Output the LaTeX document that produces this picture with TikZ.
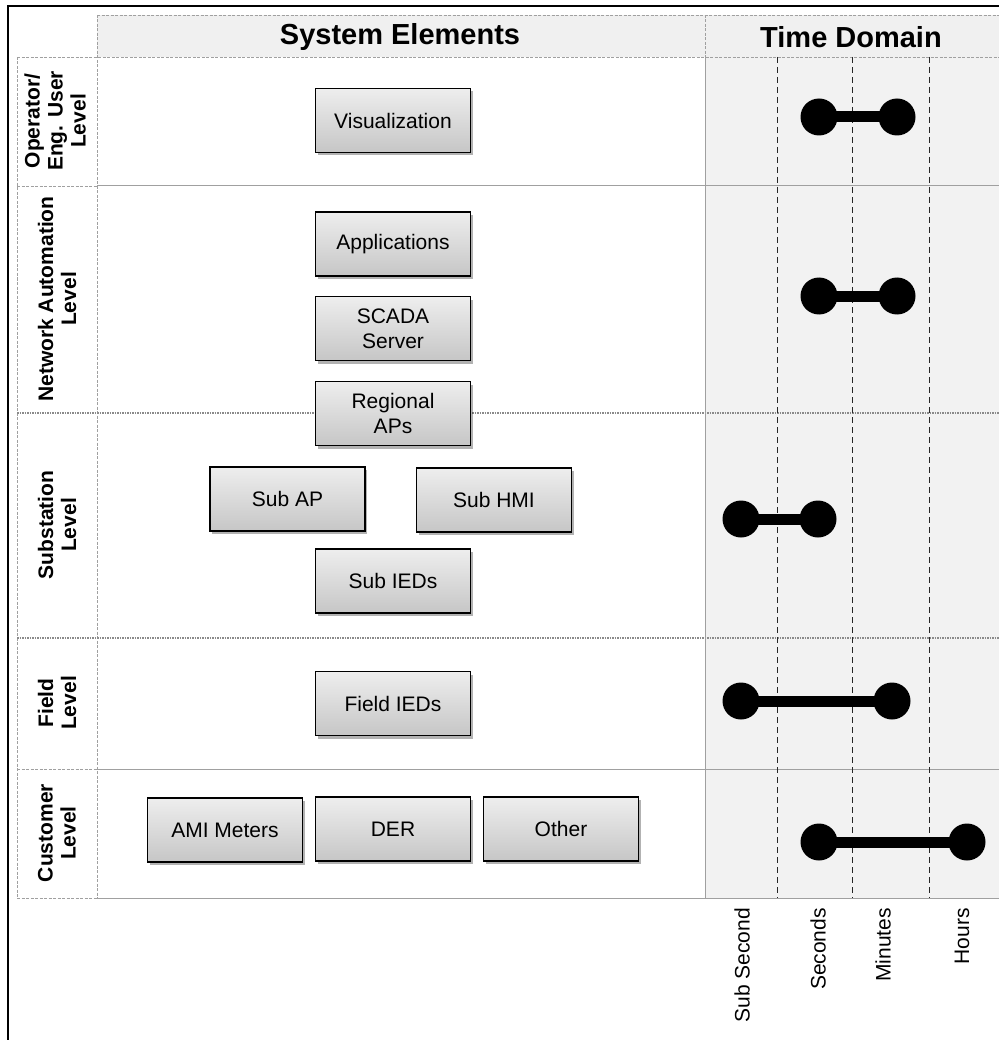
\documentclass[tikz,border=0pt]{standalone}
\usepackage{fontspec}
\setmainfont{Liberation Sans}
\usetikzlibrary{shadows}
\definecolor{gridgray}{HTML}{A0A0A0}
\definecolor{seamgray}{HTML}{8A8A8A}
\definecolor{panelgray}{HTML}{F2F2F2}
\definecolor{headgray}{HTML}{F0F0F0}
\definecolor{boxtop}{HTML}{EEEEEE}
\definecolor{boxbot}{HTML}{C6C6C6}
\tikzset{
  elem/.style={draw=black, line width=1.2pt, top color=boxtop, bottom color=boxbot,
    minimum width=155pt, minimum height=64pt, inner sep=0pt, align=center,
    font=\fontsize{21}{25}\selectfont,
    drop shadow={shadow xshift=2pt, shadow yshift=-3pt, opacity=0.3, fill=black}},
  lvl/.style={rotate=90, align=center, inner sep=0pt, font=\bfseries\fontsize{21}{23}\selectfont},
  head/.style={inner sep=0pt, font=\bfseries\fontsize{29}{34}\selectfont},
  tick/.style={rotate=90, anchor=east, inner sep=0pt, font=\fontsize{21}{25}\selectfont},
  dot/.style={circle, fill=black, minimum size=37pt, inner sep=0pt},
  bar/.style={line width=11pt},
  cellline/.style={gridgray, line width=0.8pt, dash pattern=on 3pt off 1.5pt},
  seam/.style={seamgray, line width=1.2pt, dash pattern=on 1.5pt off 1pt},
  solidline/.style={gridgray, line width=1pt},
  scaleline/.style={black!85, line width=0.9pt, dash pattern=on 6pt off 4pt},
}
\begin{document}
\begin{tikzpicture}[x=1pt, y=-1pt]
\useasboundingbox (0,0) rectangle (998,1040);
% page frame
\draw[line width=2.6pt] (8,1060) -- (8,6) -- (1010,6);
% header band and time panel
\fill[headgray] (97,15) rectangle (1010,57);
\fill[panelgray] (705,57) rectangle (1010,898);
\draw[cellline] (97,15) -- (1010,15);
\draw[cellline] (17,57) -- (1010,57);
\draw[cellline] (97,15) -- (97,898);
\draw[cellline] (705,15) -- (705,57);
% level column
\draw[cellline] (17,57) -- (17,898);
\foreach \y in {186,769,898} \draw[cellline] (17,\y) -- (97,\y);
\foreach \y in {413,638} \draw[seam] (17,\y) -- (97,\y);
% row separators
\draw[solidline] (97,186) -- (1010,186);
\draw[seam] (97,413) -- (1010,413);
\draw[seam] (97,638) -- (1010,638);
\draw[solidline] (97,769) -- (1010,769);
\draw[solidline] (97,898) -- (1010,898);
\draw[solidline] (705,57) -- (705,898);
% time scale divisions
\foreach \x in {777,852,929} \draw[scaleline] (\x,57) -- (\x,898);

% headings
\node[head] (hsys) at (400,37) {System Elements};
\node[head] (htime) at (851,37) {Time Domain};

% level names
\node[lvl] (l1) at (55,121) {Operator/\\Eng. User\\Level};
\node[lvl] (l2) at (57,299) {Network Automation\\Level};
\node[lvl] (l3) at (57,525) {Substation\\Level};
\node[lvl] (l4) at (57,703) {Field\\Level};
\node[lvl] (l5) at (57,833) {Customer\\Level};

% system elements
\node[elem] (vis) at (393,120.5) {Visualization};
\node[elem] (app) at (393,244) {Applications};
\node[elem] (scada) at (393,328.5) {SCADA\\Server};
\node[elem] (rap) at (393,413.5) {Regional\\APs};
\node[elem] (sap) at (287.5,499) {Sub AP};
\node[elem] (hmi) at (494,500) {Sub HMI};
\node[elem] (ied) at (393,581) {Sub IEDs};
\node[elem] (fied) at (393,703.5) {Field IEDs};
\node[elem] (ami) at (225,830) {AMI Meters};
\node[elem] (der) at (393,829) {DER};
\node[elem] (oth) at (561,829) {Other};

% time ranges
\node[dot] (r1a) at (819,117) {};
\node[dot] (r1b) at (897,117) {};
\draw[bar] (r1a.center) -- (r1b.center);
\node[dot] (r2a) at (819,296) {};
\node[dot] (r2b) at (897,296) {};
\draw[bar] (r2a.center) -- (r2b.center);
\node[dot] (r3a) at (741,519) {};
\node[dot] (r3b) at (818,519) {};
\draw[bar] (r3a.center) -- (r3b.center);
\node[dot] (r4a) at (741,701) {};
\node[dot] (r4b) at (892,701) {};
\draw[bar] (r4a.center) -- (r4b.center);
\node[dot] (r5a) at (819,842) {};
\node[dot] (r5b) at (967,842) {};
\draw[bar] (r5a.center) -- (r5b.center);

% time scale names
\node[tick] (t1) at (742,908) {Sub Second};
\node[tick] (t2) at (818,908) {Seconds};
\node[tick] (t3) at (883,908) {Minutes};
\node[tick] (t4) at (962,908) {Hours};
\end{tikzpicture}
\end{document}
